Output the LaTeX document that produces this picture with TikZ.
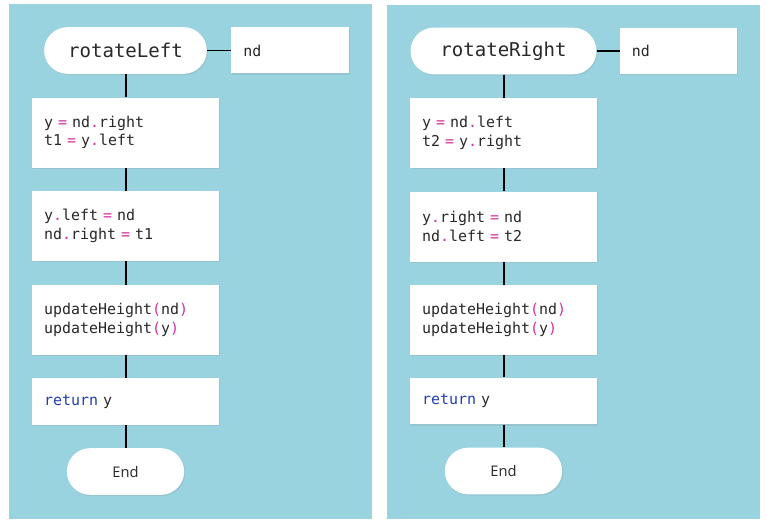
\documentclass[tikz,border=0pt]{standalone}
\usepackage{fontspec}
\setmonofont{DejaVu Sans Mono}
\setsansfont{Open Sans}
\usetikzlibrary{shadows}

\definecolor{panelblue}{RGB}{154,211,224}
\definecolor{oppink}{RGB}{214,48,160}
\definecolor{kwblue}{RGB}{34,62,178}
\definecolor{codegray}{RGB}{40,40,40}
\newcommand{\op}[1]{\textcolor{oppink}{#1}}
\newcommand{\kw}[1]{\textcolor{kwblue}{#1}}
\newcommand{\codefont}{\ttfamily\fontsize{11.2}{13.9}\selectfont\fontdimen2\font=0.602em}

\tikzset{
  soft/.style={drop shadow={opacity=0.18, shadow xshift=0.8pt, shadow yshift=-0.9pt}},
  block/.style={rectangle, fill=white, soft, minimum width=140pt, minimum height=52.5pt,
    text width=122pt, inner xsep=9pt, align=left, text=codegray, font=\codefont},
  retblock/.style={block, minimum height=35pt},
  argbox/.style={block, minimum width=88pt, text width=70pt, minimum height=34.5pt},
  startpill/.style={rectangle, rounded corners=17.5pt, fill=white, soft, minimum height=35pt,
    text=codegray, font=\ttfamily\fontsize{14.3}{17}\selectfont},
  endpill/.style={startpill, minimum width=88pt, font=\sffamily\fontsize{11}{13}\selectfont},
  flow/.style={line width=1.5pt, black},
  arg/.style={line width=0.8pt, black}
}

\begin{document}
\begin{tikzpicture}[x=0.75pt, y=-0.75pt]
  \useasboundingbox (0,0) rectangle (767,528);
  \fill[panelblue] (9,4) rectangle (372,519);
  \fill[panelblue] (387,5) rectangle (760,519);

  % rotateLeft
  \node[startpill, minimum width=122pt] (lstart) at (125.5,50.5) {rotateLeft};
  \node[argbox] (larg) at (290,50.5) {nd};
  \node[block] (lb1) at (125.5,132.5) {y \op{=} nd\op{.}right\\t1 \op{=} y\op{.}left};
  \node[block] (lb2) at (125.5,226) {y\op{.}left \op{=} nd\\nd\op{.}right \op{=} t1};
  \node[block] (lb3) at (125.5,320) {updateHeight\op{(}nd\op{)}\\updateHeight\op{(}y\op{)}};
  \node[retblock] (lb4) at (125.5,401.5) {\kw{return} y};
  \node[endpill] (lend) at (125.5,471.5) {End};
  \draw[arg] (lstart) -- (larg);
  \draw[flow] (lstart) -- (lb1) -- (lb2) -- (lb3) -- (lb4) -- (lend);

  % rotateRight
  \node[startpill, minimum width=139.5pt] (rstart) at (503.5,51) {rotateRight};
  \node[argbox] (rarg) at (678.5,51) {nd};
  \node[block] (rb1) at (503.5,133) {y \op{=} nd\op{.}left\\t2 \op{=} y\op{.}right};
  \node[block] (rb2) at (503.5,226.5) {y\op{.}right \op{=} nd\\nd\op{.}left \op{=} t2};
  \node[block] (rb3) at (503.5,320) {updateHeight\op{(}nd\op{)}\\updateHeight\op{(}y\op{)}};
  \node[retblock] (rb4) at (503.5,401) {\kw{return} y};
  \node[endpill] (rend) at (503.5,471) {End};
  \draw[arg] (rstart) -- (rarg);
  \draw[flow] (rstart) -- (rb1) -- (rb2) -- (rb3) -- (rb4) -- (rend);
\end{tikzpicture}
\end{document}
